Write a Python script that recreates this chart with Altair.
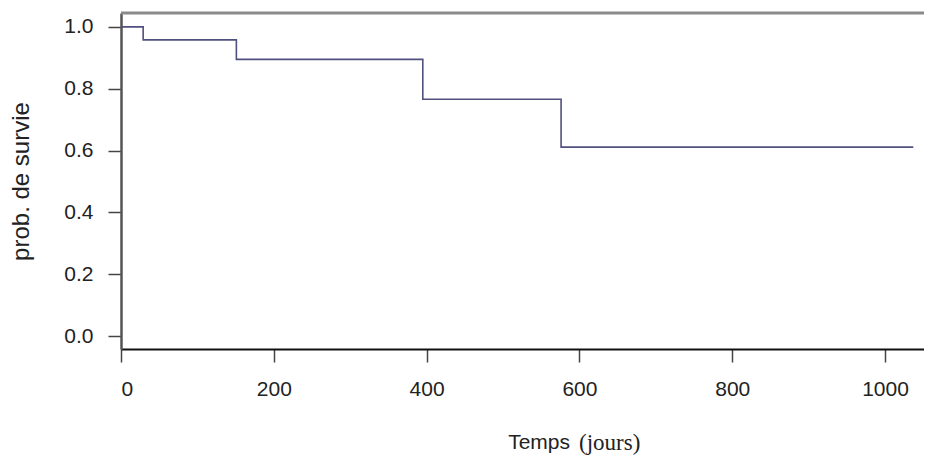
import altair as alt
import pandas as pd

# Kaplan-Meier step curve
times = [0, 29, 151, 395, 576, 1037]
surv = [1.0, 0.958, 0.895, 0.766, 0.611, 0.611]

x_ticks = [0, 200, 400, 600, 800, 1000]
y_ticks = [0.0, 0.2, 0.4, 0.6, 0.8, 1.0]

x_title_main = "Temps"
x_title_unit = "(jours)"
y_title = "prob. de survie"

W, H = 803, 336
df = pd.DataFrame({"t": times, "s": surv})
one = pd.DataFrame({"k": [0]})

xs = alt.Scale(domain=[0, 1051], nice=False, zero=False)
ys = alt.Scale(domain=[-0.042, 1.045], nice=False, zero=False)

line = alt.Chart(df).mark_line(interpolate="step-after", color="#50507e", strokeWidth=1.6).encode(
    x=alt.X("t:Q", scale=xs, axis=alt.Axis(
        values=x_ticks, title=None, grid=False, tickSize=13, tickColor="#444", tickWidth=1.5,
        domainColor="#111", domainWidth=2, labelFont="Liberation Sans", labelFontSize=21,
        labelColor="#222", labelPadding=16, format="d")),
    y=alt.Y("s:Q", scale=ys, axis=alt.Axis(
        values=y_ticks, title=y_title, grid=False, tickSize=13, tickColor="#444",
        tickWidth=1.5, domainColor="#555", domainWidth=2.5, labelFont="Liberation Sans",
        labelFontSize=21, labelColor="#222", labelPadding=15, format=".1f",
        titleFont="Liberation Sans", titleFontSize=24, titleFontWeight="normal", titleColor="#222",
        titleX=-100, titleY=168, titleAngle=-90, titleAlign="center", titleBaseline="middle")),
)

top = alt.Chart(one).mark_rule(color="#8a8a8a", strokeWidth=3).encode(
    x=alt.value(0), x2=alt.value(W + 10), y=alt.value(0))

t1 = alt.Chart(one).mark_text(text=x_title_main, font="Liberation Sans", fontSize=21,
                              fontWeight="normal", color="#222", align="right",
                              baseline="middle").encode(x=alt.value(449), y=alt.value(430))
t2 = alt.Chart(one).mark_text(text=x_title_unit, font="Liberation Serif", fontSize=23,
                              fontWeight="normal", color="#222", align="left",
                              baseline="middle").encode(x=alt.value(458), y=alt.value(430))

chart = alt.layer(top, line, t1, t2).properties(
    width=W, height=H,
    autosize=alt.AutoSizeParams(type="none"),
    padding={"left": 113, "top": 5, "right": 0, "bottom": 110},
).configure_view(stroke=None)

chart.save("out.html", embed_options={"renderer": "svg", "actions": False})
